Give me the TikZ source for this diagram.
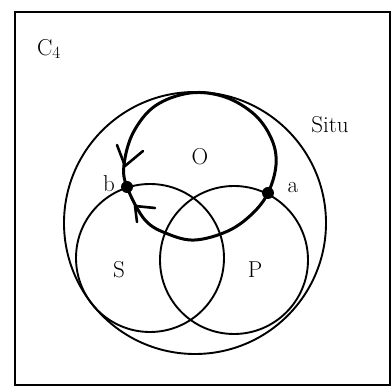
\documentclass[tikz,border=0pt]{standalone}
\usepackage{fontspec}
\setmainfont{Latin Modern Roman}
\begin{document}
\begin{tikzpicture}[x=1pt,y=-1pt,
  thin circ/.style={line width=1.9pt},
  loop/.style={line width=3pt,line join=round,line cap=round},
  lbl/.style={font=\fontsize{23}{27}\selectfont,inner sep=0pt}]
\useasboundingbox (0,0) rectangle (392,387);
% frame
\draw[line width=2.1pt] (15,12) rectangle (390,385);
% circles
\draw[thin circ] (195,223) circle[radius=131];
\draw[thin circ] (150,258) circle[radius=74];
\draw[thin circ] (234,260) circle[radius=74];
% points
\coordinate (b) at (127,187);
\coordinate (a) at (268,193);
% O loop
\draw[loop] plot[smooth cycle,tension=0.6] coordinates {
  (127,187) (124,165) (133,133) (155,106) (190,93) (225,97) (255,115)
  (272,140) (276,165) (268,193) (252,214) (228,231) (195,240) (168,234)
  (145,220)};
% arrowheads
\draw[line width=2.6pt,line cap=round,line join=round] (117,145) -- (125,166) -- (143,151);
\draw[line width=2.6pt,line cap=round,line join=round] (155,208) -- (135,206) -- (137,222);
% dots
\fill (b) circle[radius=6];
\fill (a) circle[radius=6];
% labels
\node[lbl] (lc) at (49,49) {C$_4$};
\node[lbl] (lsitu) at (330,125) {Situ};
\node[lbl] (lo) at (200,157) {O};
\node[lbl] (lb) at (109,184) {b};
\node[lbl] (la) at (293,188) {a};
\node[lbl] (ls) at (119,270) {S};
\node[lbl] (lp) at (255,270) {P};
\end{tikzpicture}
\end{document}
